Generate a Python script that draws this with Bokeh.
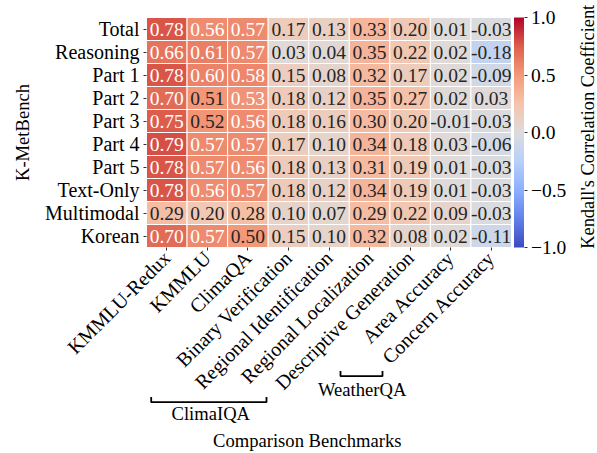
import math
from bokeh.plotting import figure
from bokeh.models import (LinearColorMapper, ColorBar, ColumnDataSource, FixedTicker,
                          Label, PolyAnnotation, Range1d)
from bokeh.transform import transform
from bokeh.core.properties import value
from bokeh.embed import file_html
from bokeh.resources import INLINE

# ---------------- data ----------------
rows = ["Total", "Reasoning", "Part 1", "Part 2", "Part 3", "Part 4", "Part 5",
        "Text-Only", "Multimodal", "Korean"]
cols = ["KMMLU-Redux", "KMMLU", "ClimaQA", "Binary Verification",
        "Regional Identification", "Regional Localization",
        "Descriptive Generation", "Area Accuracy", "Concern Accuracy"]

total      = [0.78, 0.56, 0.57, 0.17, 0.13, 0.33, 0.20, 0.01, -0.03]
reasoning  = [0.66, 0.61, 0.57, 0.03, 0.04, 0.35, 0.22, 0.02, -0.18]
part1      = [0.78, 0.60, 0.58, 0.15, 0.08, 0.32, 0.17, 0.02, -0.09]
part2      = [0.70, 0.51, 0.53, 0.18, 0.12, 0.35, 0.27, 0.02, 0.03]
part3      = [0.75, 0.52, 0.56, 0.18, 0.16, 0.30, 0.20, -0.01, -0.03]
part4      = [0.79, 0.57, 0.57, 0.17, 0.10, 0.34, 0.18, 0.03, -0.06]
part5      = [0.78, 0.57, 0.56, 0.18, 0.13, 0.31, 0.19, 0.01, -0.03]
text_only  = [0.78, 0.56, 0.57, 0.18, 0.12, 0.34, 0.19, 0.01, -0.03]
multimodal = [0.29, 0.20, 0.28, 0.10, 0.07, 0.29, 0.22, 0.09, -0.03]
korean     = [0.70, 0.57, 0.50, 0.15, 0.10, 0.32, 0.08, 0.02, -0.11]

matrix = [total, reasoning, part1, part2, part3, part4, part5,
          text_only, multimodal, korean]

cbar_ticks = [-1, -0.5, 0, 0.5, 1]
cbar_labels = ["\u22121.0", "\u22120.5", "0.0", "0.5", "1.0"]

# ---------------- coolwarm palette ----------------
anchors = ["#3b4cc0", "#6282ea", "#8db0fe", "#b8d0f9", "#dddcdc",
           "#f5c4ac", "#f49a7b", "#de604d", "#b40426"]


def hex2rgb(h):
    return tuple(int(h[i:i + 2], 16) for i in (1, 3, 5))


anc = [hex2rgb(a) for a in anchors]
palette = []
N = 256
for i in range(N):
    t = i / (N - 1) * (len(anc) - 1)
    k = min(int(t), len(anc) - 2)
    f = t - k
    c = tuple(round(anc[k][j] + (anc[k + 1][j] - anc[k][j]) * f) for j in range(3))
    palette.append("#%02x%02x%02x" % c)

mapper = LinearColorMapper(palette=palette, low=-1, high=1)

# ---------------- layout (pixels) ----------------
W, H = 597, 453
LEFT, TOP = 146, 17            # heatmap top-left corner on the canvas
CELL_W = 365 / len(cols)
CELL_H = 230 / len(rows)

nrow = len(rows)
row_pos = {r: nrow - 1 - i for i, r in enumerate(rows)}
col_pos = {c: i for i, c in enumerate(cols)}

xs, ys, vals, labels, tcolors = [], [], [], [], []
for r, rowvals in zip(rows, matrix):
    for c, v in zip(cols, rowvals):
        xs.append(col_pos[c])
        ys.append(row_pos[r])
        vals.append(v)
        labels.append("%.2f" % v)
        tcolors.append("white" if v > 0.525 else "#262626")

src = ColumnDataSource(dict(x=xs, y=ys, v=vals, lab=labels, tc=tcolors))

FONT = "Liberation Serif"

x_start = -0.5 - LEFT / CELL_W
x_end = -0.5 + (W - LEFT) / CELL_W
y_end = nrow - 0.5 + TOP / CELL_H
y_start = nrow - 0.5 - (H - TOP) / CELL_H

p = figure(x_range=Range1d(x_start, x_end), y_range=Range1d(y_start, y_end),
           width=W, height=H, min_border=0,
           min_border_left=0, min_border_top=0, min_border_bottom=0,
           min_border_right=0,
           output_backend="svg", toolbar_location=None)

p.rect(x="x", y="y", width=1, height=1, source=src,
       fill_color=transform("v", mapper), line_color="white", line_width=1)
p.text(x="x", y="y", text="lab", source=src, text_align="center",
       text_baseline="middle", text_color="tc",
       text_font=value(FONT), text_font_size="19.5px")

p.grid.visible = False
p.outline_line_color = None
p.xaxis.ticker = FixedTicker(ticks=list(range(len(cols))))
p.xaxis.major_label_overrides = {i: c for i, c in enumerate(cols)}
p.yaxis.ticker = FixedTicker(ticks=[row_pos[r] for r in rows])
p.yaxis.major_label_overrides = {row_pos[r]: r for r in rows}
p.xaxis.fixed_location = -0.5
p.yaxis.fixed_location = -0.5
for ax in (p.xaxis, p.yaxis):
    ax.axis_line_color = None
    ax.major_tick_out = 3
    ax.major_tick_in = 0
    ax.major_tick_line_color = "#333333"
    ax.minor_tick_line_color = None
    ax.major_label_text_font = FONT
    ax.major_label_text_font_size = "20px"
    ax.major_label_text_color = "black"
    ax.major_label_standoff = 4

p.xaxis.major_label_orientation = math.pi / 4

cb = ColorBar(color_mapper=mapper, ticker=FixedTicker(ticks=cbar_ticks),
              major_label_overrides=dict(zip(cbar_ticks, cbar_labels)),
              width=10, height=230, padding=0, margin=0,
              location=(513.5, H - 247),
              major_tick_in=0, major_tick_out=3, major_tick_line_color="#333333",
              label_standoff=4,
              major_label_text_font=FONT, major_label_text_font_size="19.5px",
              major_label_text_color="black",
              bar_line_color=None, border_line_color=None,
              background_fill_alpha=0)
p.add_layout(cb)


def sx(x):
    return x


def sy(y):
    return H - y


# axis titles
p.add_layout(Label(x=sx(587), y=sy(126.3), x_units="screen", y_units="screen",
                   text="Kendall's Correlation Coefficient", angle=math.pi / 2,
                   text_align="center", text_baseline="middle",
                   text_font=FONT, text_font_size="18.4px", text_color="black"))
p.add_layout(Label(x=sx(21.5), y=sy(132), x_units="screen", y_units="screen",
                   text="K-MetBench", angle=math.pi / 2,
                   text_align="center", text_baseline="middle",
                   text_font=FONT, text_font_size="18.6px", text_color="black"))


# group brackets
def bracket(x0, x1, ybot, ytop):
    X0, X1, YB, YT = sx(x0), sx(x1), sy(ybot), sy(ytop)
    return PolyAnnotation(xs=[X0, X0, X1, X1, X1, X0], ys=[YT, YB, YB, YT, YB, YB],
                          xs_units="screen", ys_units="screen",
                          fill_alpha=0, line_color="black", line_alpha=1,
                          line_width=1.8)


p.add_layout(bracket(150.7, 266, 401.7, 396.5))
p.add_layout(bracket(340, 382, 375.7, 370.5))

for txt, x, y in [("ClimaIQA", 210.3, 413.3), ("WeatherQA", 361.7, 389),
                  ("Comparison Benchmarks", 306.8, 439.5)]:
    p.add_layout(Label(x=sx(x), y=sy(y), x_units="screen", y_units="screen", text=txt,
                       text_align="center", text_baseline="middle",
                       text_font=FONT, text_font_size="18.6px", text_color="black"))

open("out.html", "w").write(file_html(p, INLINE))
